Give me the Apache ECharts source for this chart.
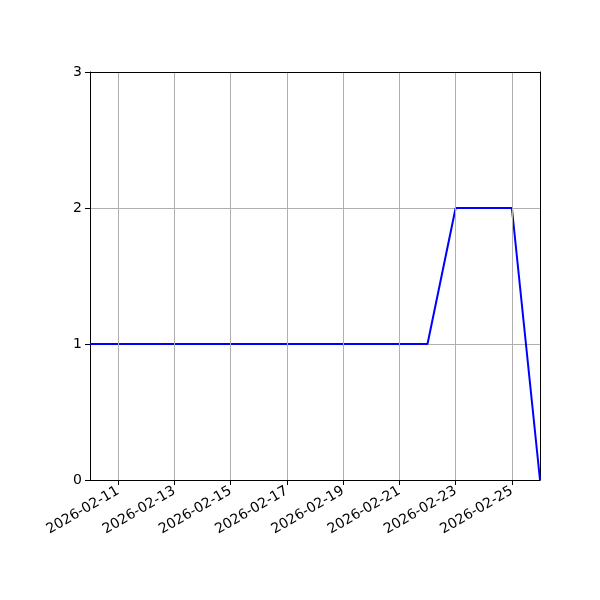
<!DOCTYPE html>
<html>
<head>
<meta charset="utf-8">
<script src="https://cdn.jsdelivr.net/npm/echarts@6/dist/echarts.min.js"></script>
<style>html,body{margin:0;padding:0;background:#fff;}#c{width:600px;height:600px;}</style>
</head>
<body>
<div id="c"></div>
<script>
const dates = ['2026-02-10','2026-02-11','2026-02-12','2026-02-13','2026-02-14','2026-02-15','2026-02-16','2026-02-17','2026-02-18','2026-02-19','2026-02-20','2026-02-21','2026-02-22','2026-02-23','2026-02-24','2026-02-25','2026-02-26'];
const values = [1,1,1,1,1,1,1,1,1,1,1,1,1,2,2,2,0];
const yTicks = [0,1,2,3];

const chart = echarts.init(document.getElementById('c'));
const oddIdx = (i) => i % 2 === 1;
chart.setOption({
  animation: false,
  backgroundColor: '#fff',
  grid: {left: 90, right: 60, top: 72, bottom: 120},
  xAxis: [{
    type: 'category',
    data: dates,
    boundaryGap: false,
    axisLine: {onZero: false, lineStyle: {color: '#000', width: 1}},
    axisTick: {show: true, inside: false, length: 5, interval: (i) => oddIdx(i), lineStyle: {color: '#000'}},
    axisLabel: {interval: (i) => oddIdx(i), rotate: 30, color: '#000', fontFamily: 'DejaVu Sans', fontSize: 14, margin: 10},
    splitLine: {show: true, interval: (i) => oddIdx(i), lineStyle: {color: '#b0b0b0', width: 1}},
    z: 5
  }, {
    type: 'category',
    data: dates,
    boundaryGap: false,
    position: 'top',
    axisLine: {show: true, onZero: false, lineStyle: {color: '#000', width: 1}},
    axisTick: {show: false},
    axisLabel: {show: false},
    splitLine: {show: false},
    z: 5
  }],
  yAxis: [{
    type: 'value',
    min: yTicks[0], max: yTicks[yTicks.length-1], interval: 1,
    axisLine: {show: true, onZero: false, lineStyle: {color: '#000', width: 1}},
    axisTick: {show: true, length: 5, lineStyle: {color: '#000'}},
    axisLabel: {color: '#000', fontFamily: 'DejaVu Sans', fontSize: 14, margin: 8},
    splitLine: {show: true, lineStyle: {color: '#b0b0b0', width: 1}}
  }, {
    type: 'value',
    min: yTicks[0], max: yTicks[yTicks.length-1], interval: 1,
    position: 'right',
    axisLine: {show: true, onZero: false, lineStyle: {color: '#000', width: 1}},
    axisTick: {show: false},
    axisLabel: {show: false},
    splitLine: {show: false}
  }],
  series: [{
    type: 'line',
    data: values,
    showSymbol: false,
    symbol: 'none',
    lineStyle: {color: '#0000ff', width: 2},
    itemStyle: {color: '#0000ff'}
  }]
});
</script>
</body>
</html>
